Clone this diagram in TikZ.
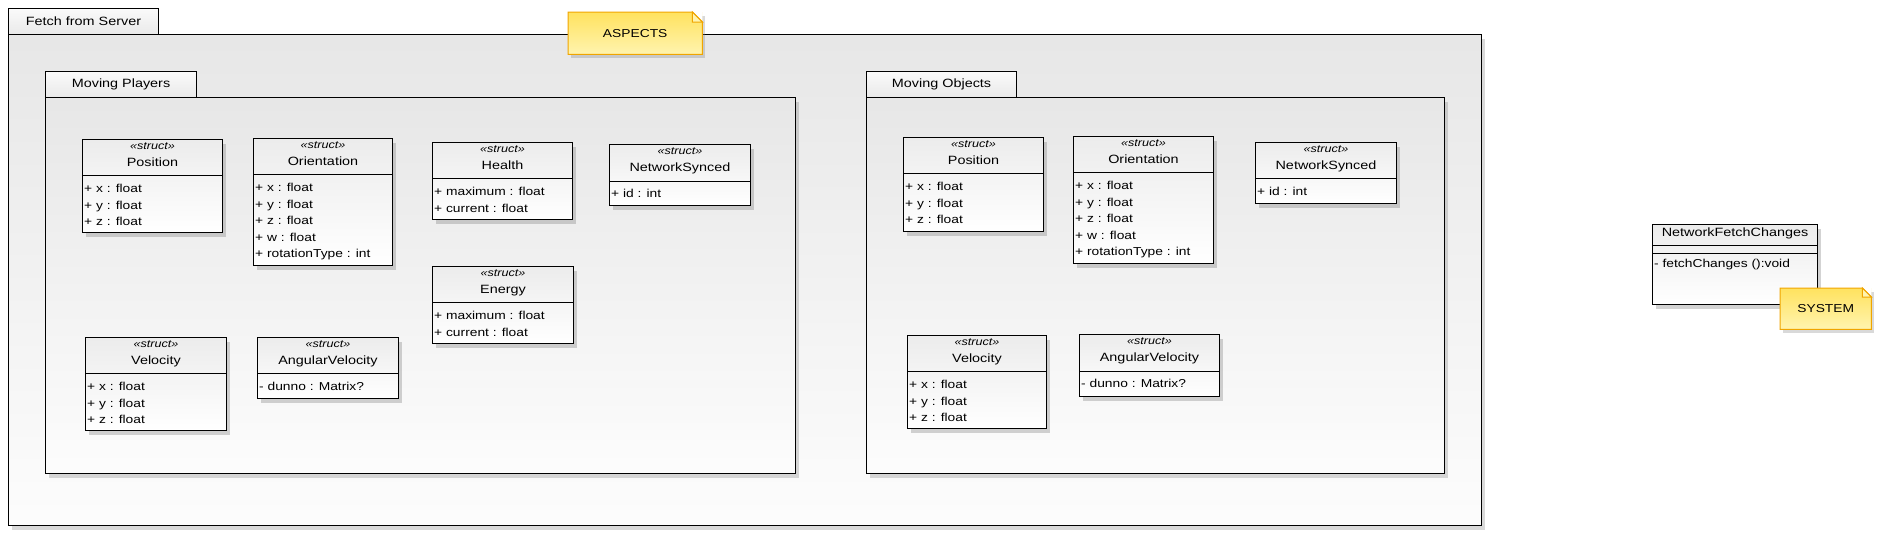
\documentclass[tikz,border=0pt]{standalone}
\usepackage{fontspec}
\setmainfont{Liberation Sans}[FakeStretch=1.2]
\usetikzlibrary{shadows}
\definecolor{noteFill}{RGB}{255,226,95}
\definecolor{noteLight}{RGB}{255,244,175}
\definecolor{noteLine}{RGB}{240,165,0}

\begin{document}
\begin{tikzpicture}[x=1pt, y=1pt,
  frame_node/.style={draw, line width=1.1pt, anchor=north west, inner sep=0pt, top color=gray!19, bottom color=gray!2, drop shadow={shadow xshift=3pt, shadow yshift=-4pt, opacity=0.3}},
  tab_node/.style={draw, line width=1.1pt, anchor=north west, inner sep=0pt, minimum height=26, top color=gray!4, bottom color=gray!17, font=\fontsize{12}{14}\selectfont},
  struct_node/.style={draw, line width=1pt, anchor=north west, inner sep=0pt, top color=gray!15, bottom color=white, drop shadow={shadow xshift=3pt, shadow yshift=-4pt, opacity=0.35}},
  stereo/.style={anchor=base, inner sep=0pt, font=\fontsize{10.5}{12}\selectfont\itshape},
  class_name/.style={anchor=base, inner sep=0pt, font=\fontsize{12}{14}\selectfont},
  members/.style={anchor=north west, inner sep=0pt, align=left, font=\fontsize{11.5}{16.5}\selectfont},
  note_node/.style={anchor=north west, inner sep=0pt, top color=noteFill, bottom color=noteLight, drop shadow={shadow xshift=3pt, shadow yshift=-4pt, opacity=0.3}, font=\fontsize{11.5}{14}\selectfont},
  note_line/.style={draw=noteLine, line width=1pt}]
\useasboundingbox (0,0) rectangle (1897,-550);

% outer package
\node[frame_node, minimum width=1473, minimum height=491] (fetch_frame) at (8,-34) {};
\node[tab_node, minimum width=150] (fetch_tab) at (8,-8) {Fetch from Server};

% ASPECTS note
\node[note_node, minimum width=134, minimum height=42] (aspects) at (568,-12) {ASPECTS};
\fill[white] ([xshift=-10]aspects.north east) -- (aspects.north east) -- ([yshift=-10]aspects.north east) -- cycle;
\draw[note_line] (aspects.north west) -- ([xshift=-10]aspects.north east) -- ([yshift=-10]aspects.north east) |- (aspects.south west) -- cycle;
\draw[note_line, fill=noteLight] ([xshift=-10]aspects.north east) |- ([yshift=-10]aspects.north east) -- cycle;

% Moving Players
\node[frame_node, minimum width=750, minimum height=376] (players_frame) at (45,-97) {};
\node[tab_node, minimum width=151] (players_tab) at (45,-71) {Moving Players};

\node[struct_node, minimum width=140, minimum height=93] (pos_mp) at (82,-139) {};
\node[stereo] at ([yshift=-10]pos_mp.north) {«struct»};
\node[class_name] at ([yshift=-27]pos_mp.north) {Position};
\draw ([yshift=-36]pos_mp.north west) -- ([yshift=-36]pos_mp.north east);
\node[members] at ([shift={(2,-45)}]pos_mp.north west) {+ x : float\\+ y : float\\+ z : float};

\node[struct_node, minimum width=139, minimum height=127] (ori_mp) at (253,-138) {};
\node[stereo] at ([yshift=-10]ori_mp.north) {«struct»};
\node[class_name] at ([yshift=-27]ori_mp.north) {Orientation};
\draw ([yshift=-36]ori_mp.north west) -- ([yshift=-36]ori_mp.north east);
\node[members] at ([shift={(2,-45)}]ori_mp.north west) {+ x : float\\+ y : float\\+ z : float\\+ w : float\\+ rotationType : int};

\node[struct_node, minimum width=140, minimum height=77] (health_mp) at (432,-142) {};
\node[stereo] at ([yshift=-10]health_mp.north) {«struct»};
\node[class_name] at ([yshift=-27]health_mp.north) {Health};
\draw ([yshift=-36]health_mp.north west) -- ([yshift=-36]health_mp.north east);
\node[members] at ([shift={(2,-45)}]health_mp.north west) {+ maximum : float\\+ current : float};

\node[struct_node, minimum width=141, minimum height=61] (sync_mp) at (609,-144) {};
\node[stereo] at ([yshift=-10]sync_mp.north) {«struct»};
\node[class_name] at ([yshift=-27]sync_mp.north) {NetworkSynced};
\draw ([yshift=-37]sync_mp.north west) -- ([yshift=-37]sync_mp.north east);
\node[members] at ([shift={(2,-45)}]sync_mp.north west) {+ id : int};

\node[struct_node, minimum width=141, minimum height=77] (energy_mp) at (432,-266) {};
\node[stereo] at ([yshift=-10]energy_mp.north) {«struct»};
\node[class_name] at ([yshift=-27]energy_mp.north) {Energy};
\draw ([yshift=-36]energy_mp.north west) -- ([yshift=-36]energy_mp.north east);
\node[members] at ([shift={(2,-45)}]energy_mp.north west) {+ maximum : float\\+ current : float};

\node[struct_node, minimum width=141, minimum height=93] (vel_mp) at (85,-337) {};
\node[stereo] at ([yshift=-10]vel_mp.north) {«struct»};
\node[class_name] at ([yshift=-27]vel_mp.north) {Velocity};
\draw ([yshift=-36]vel_mp.north west) -- ([yshift=-36]vel_mp.north east);
\node[members] at ([shift={(2,-45)}]vel_mp.north west) {+ x : float\\+ y : float\\+ z : float};

\node[struct_node, minimum width=141, minimum height=61] (angvel_mp) at (257,-337) {};
\node[stereo] at ([yshift=-10]angvel_mp.north) {«struct»};
\node[class_name] at ([yshift=-27]angvel_mp.north) {AngularVelocity};
\draw ([yshift=-36]angvel_mp.north west) -- ([yshift=-36]angvel_mp.north east);
\node[members] at ([shift={(2,-45)}]angvel_mp.north west) {- dunno : Matrix?};

% Moving Objects
\node[frame_node, minimum width=578, minimum height=376] (objects_frame) at (866,-97) {};
\node[tab_node, minimum width=150] (objects_tab) at (866,-71) {Moving Objects};

\node[struct_node, minimum width=140, minimum height=94] (pos_mo) at (903,-137) {};
\node[stereo] at ([yshift=-10]pos_mo.north) {«struct»};
\node[class_name] at ([yshift=-27]pos_mo.north) {Position};
\draw ([yshift=-36]pos_mo.north west) -- ([yshift=-36]pos_mo.north east);
\node[members] at ([shift={(2,-45)}]pos_mo.north west) {+ x : float\\+ y : float\\+ z : float};

\node[struct_node, minimum width=140, minimum height=127] (ori_mo) at (1073,-136) {};
\node[stereo] at ([yshift=-10]ori_mo.north) {«struct»};
\node[class_name] at ([yshift=-27]ori_mo.north) {Orientation};
\draw ([yshift=-36]ori_mo.north west) -- ([yshift=-36]ori_mo.north east);
\node[members] at ([shift={(2,-45)}]ori_mo.north west) {+ x : float\\+ y : float\\+ z : float\\+ w : float\\+ rotationType : int};

\node[struct_node, minimum width=141, minimum height=61] (sync_mo) at (1255,-142) {};
\node[stereo] at ([yshift=-10]sync_mo.north) {«struct»};
\node[class_name] at ([yshift=-27]sync_mo.north) {NetworkSynced};
\draw ([yshift=-36]sync_mo.north west) -- ([yshift=-36]sync_mo.north east);
\node[members] at ([shift={(2,-45)}]sync_mo.north west) {+ id : int};

\node[struct_node, minimum width=139, minimum height=93] (vel_mo) at (907,-335) {};
\node[stereo] at ([yshift=-10]vel_mo.north) {«struct»};
\node[class_name] at ([yshift=-27]vel_mo.north) {Velocity};
\draw ([yshift=-36]vel_mo.north west) -- ([yshift=-36]vel_mo.north east);
\node[members] at ([shift={(2,-45)}]vel_mo.north west) {+ x : float\\+ y : float\\+ z : float};

\node[struct_node, minimum width=140, minimum height=62] (angvel_mo) at (1079,-334) {};
\node[stereo] at ([yshift=-10]angvel_mo.north) {«struct»};
\node[class_name] at ([yshift=-27]angvel_mo.north) {AngularVelocity};
\draw ([yshift=-37]angvel_mo.north west) -- ([yshift=-37]angvel_mo.north east);
\node[members] at ([shift={(2,-45)}]angvel_mo.north west) {- dunno : Matrix?};

% system class
\node[struct_node, minimum width=165, minimum height=80] (fetch_sys) at (1652,-224) {};
\node[class_name] at ([yshift=-12]fetch_sys.north) {NetworkFetchChanges};
\draw ([yshift=-21]fetch_sys.north west) -- ([yshift=-21]fetch_sys.north east);
\draw ([yshift=-29]fetch_sys.north west) -- ([yshift=-29]fetch_sys.north east);
\node[members] at ([shift={(2,-35)}]fetch_sys.north west) {- fetchChanges ():void};

% SYSTEM note
\node[note_node, minimum width=91, minimum height=41] (system) at (1780,-288) {SYSTEM};
\fill[white] ([xshift=-9]system.north east) -- (system.north east) -- ([yshift=-9]system.north east) -- cycle;
\draw[note_line] (system.north west) -- ([xshift=-9]system.north east) -- ([yshift=-9]system.north east) |- (system.south west) -- cycle;
\draw[note_line, fill=noteLight] ([xshift=-9]system.north east) |- ([yshift=-9]system.north east) -- cycle;
\end{tikzpicture}
\end{document}
